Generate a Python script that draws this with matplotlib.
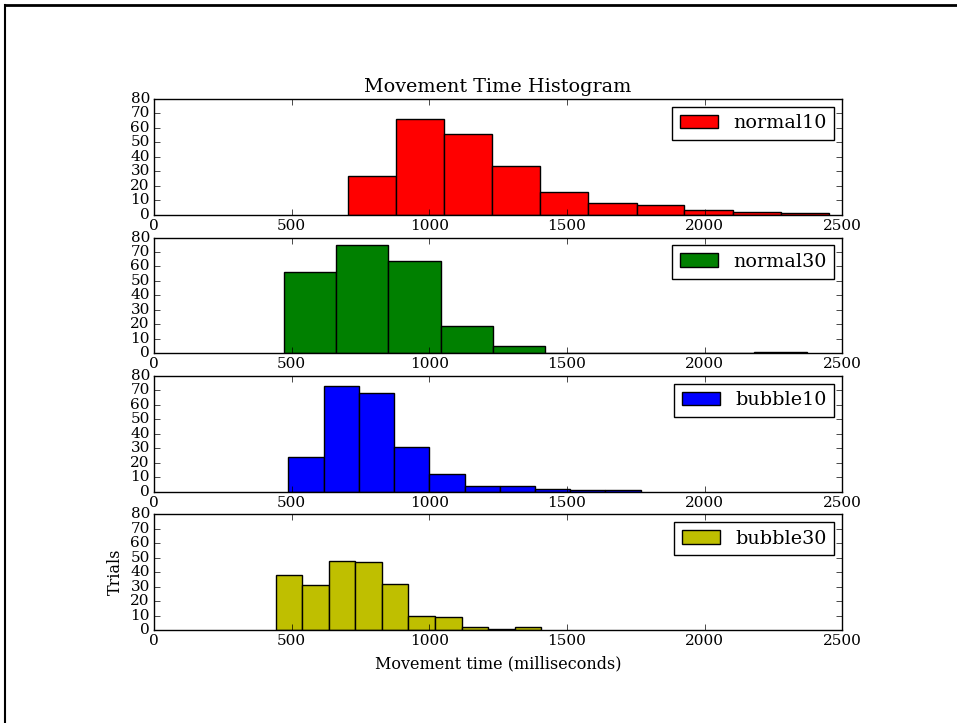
import matplotlib
matplotlib.use('Agg')
import matplotlib.pyplot as plt
from matplotlib.lines import Line2D
import numpy as np

# bin edges (ms) and counts
labels = ['normal10', 'normal30', 'bubble10', 'bubble30']
colors = ['r', 'g', 'b', 'y']

edges_normal10 = [705, 880, 1054, 1229, 1403, 1578, 1753, 1927, 2102, 2276, 2451]
counts_normal10 = [27, 66, 56, 34, 16, 8, 7, 3, 2, 1]

edges_normal30 = [471, 661, 851, 1041, 1231, 1421, 1611, 1801, 1991, 2181, 2371]
counts_normal30 = [56, 75, 64, 19, 5, 0, 0, 0, 0, 1]

edges_bubble10 = [488, 616, 744, 872, 1000, 1128, 1256, 1384, 1512, 1640, 1768]
counts_bubble10 = [24, 73, 68, 31, 12, 4, 4, 2, 1, 1]

edges_bubble30 = [442, 538, 635, 731, 828, 924, 1021, 1117, 1214, 1310, 1407]
counts_bubble30 = [38, 31, 48, 47, 32, 10, 9, 2, 1, 2]

all_edges = [edges_normal10, edges_normal30, edges_bubble10, edges_bubble30]
all_counts = [counts_normal10, counts_normal30, counts_bubble10, counts_bubble30]

xticks = [0, 500, 1000, 1500, 2000, 2500]
yticks = [0, 10, 20, 30, 40, 50, 60, 70, 80]

plt.style.use('classic')
plt.rcParams['font.family'] = ['DejaVu Serif']
plt.rcParams['font.size'] = 11.5
plt.rcParams['figure.facecolor'] = 'white'
plt.rcParams['savefig.facecolor'] = 'white'

fig, axes = plt.subplots(4, 1, figsize=(9.57, 7.23), dpi=100)
fig.subplots_adjust(left=0.161, right=0.880, top=0.863, bottom=0.1286, hspace=0.198)

for ax, edges, counts, lab, col in zip(axes, all_edges, all_counts, labels, colors):
    edges = np.array(edges)
    ax.bar(edges[:-1], counts, width=np.diff(edges), align='edge',
           color=col, edgecolor='black', linewidth=1.0, label=lab)
    ax.set_xlim(0, 2500)
    ax.set_ylim(0, 80)
    ax.set_xticks(xticks)
    ax.set_yticks(yticks)
    ax.tick_params(direction='in', top=True, right=True, length=4, pad=3, labelsize=11)
    ax.legend(loc='upper right', fontsize=13.8, borderaxespad=0.4)

axes[0].set_title('Movement Time Histogram', fontsize=13.8)
axes[3].set_ylabel('Trials')
axes[3].set_xlabel('Movement time (milliseconds)')

# thin frame line on the left and top edge of the image
x0 = 4.5 / 957
y0 = 1 - 5 / 723
fig.add_artist(Line2D([x0, x0], [0, y0], transform=fig.transFigure, color='black', linewidth=1.5))
fig.add_artist(Line2D([x0, 1], [y0, y0], transform=fig.transFigure, color='black', linewidth=2))

plt.savefig('out.png', dpi=100, facecolor='white')
plt.close()
